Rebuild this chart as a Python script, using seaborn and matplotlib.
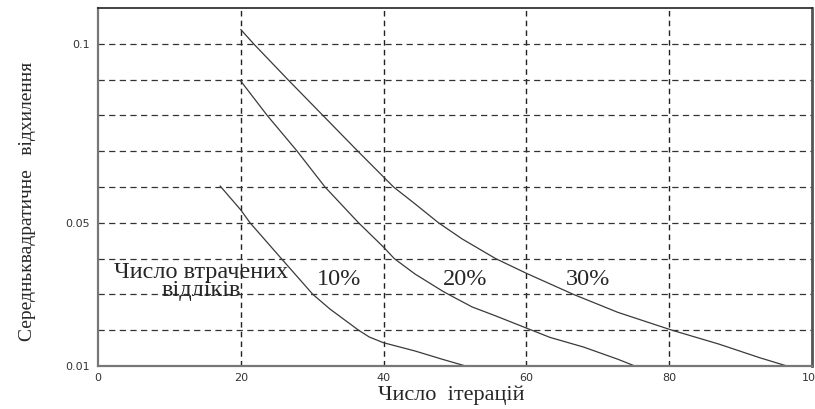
import matplotlib
matplotlib.use("Agg")
import matplotlib.pyplot as plt
from matplotlib.ticker import MultipleLocator, FixedLocator
import seaborn as sns
import pandas as pd

# Mean-square deviation versus iteration count for different shares of lost samples
iters_10 = [17.1, 20, 21.3, 25.6, 30.1, 32.5, 36.5, 38, 40, 44.4, 48.2, 51.5]
err_10 = [0.0603, 0.0536, 0.05, 0.0402, 0.03, 0.0259, 0.02, 0.0181, 0.0165, 0.0142, 0.0119, 0.01]

iters_20 = [20, 23.7, 27.9, 31.8, 36.5, 40, 41.5, 44.4, 48.2, 49.1, 52.4, 55.7, 60, 63.3, 68, 72.8, 75.2]
err_20 = [0.0896, 0.08, 0.07, 0.06, 0.05, 0.0432, 0.04, 0.0357, 0.031, 0.03, 0.0265, 0.024, 0.0206,
          0.018, 0.0153, 0.0119, 0.01]

iters_30 = [20, 21.8, 26.6, 31.5, 36.4, 40, 41.4, 44.4, 47.7, 51, 55.7, 60, 66.6, 72.8, 80.4, 87, 92.7, 96.5]
err_30 = [0.104, 0.1, 0.09, 0.08, 0.07, 0.0628, 0.06, 0.0553, 0.05, 0.0455, 0.04, 0.0359, 0.03,
          0.025, 0.02, 0.0161, 0.0123, 0.01]

series_labels = ["10%", "20%", "30%"]
x_ticks = [0, 20, 40, 60, 80, 100]
y_ticks = [0.01, 0.05, 0.1]
y_tick_labels = ["0.01", "0.05", "0.1"]

frames = []
for lab, xs, ys in zip(series_labels, [iters_10, iters_20, iters_30], [err_10, err_20, err_30]):
    frames.append(pd.DataFrame({"iter": xs, "err": ys, "lost": lab}))
df = pd.concat(frames, ignore_index=True)

sns.set_style("white")
plt.rcParams["font.family"] = ["Liberation Serif", "DejaVu Serif"]

fig = plt.figure(figsize=(8.15, 4.09), dpi=100)
ax = fig.add_axes([0.1202, 0.1051, 0.8761, 0.8753])

sns.lineplot(data=df, x="iter", y="err", units="lost", estimator=None, sort=False,
             color="#3a3a3a", linewidth=0.9, ax=ax, legend=False)

ax.set_xlim(0, 100)
ax.set_ylim(0.01, 0.11)

ax.xaxis.set_major_locator(FixedLocator(x_ticks))
ax.set_xticklabels([str(v) for v in x_ticks])
ax.yaxis.set_major_locator(FixedLocator(y_ticks))
ax.set_yticklabels(y_tick_labels)
ax.yaxis.set_minor_locator(MultipleLocator(0.01))

ax.tick_params(axis="both", which="both", length=0, labelsize=8, labelcolor="#333333")
ax.tick_params(axis="x", pad=5)
ax.tick_params(axis="y", pad=6)
for lbl in ax.get_xticklabels() + ax.get_yticklabels():
    lbl.set_fontfamily("DejaVu Sans")

# dashed grid: vertical at major x ticks, horizontal every 0.01
for xv in [20, 40, 60, 80]:
    ax.axvline(xv, color="#222222", linestyle=(0, (4, 3)), linewidth=1.0, zorder=0)
yv = 0.02
while yv < 0.1095:
    ax.axhline(yv, color="#333333", linestyle=(0, (5, 3.5)), linewidth=0.9, zorder=0)
    yv += 0.01

ax.spines["left"].set_color("#777777")
ax.spines["left"].set_linewidth(1.6)
ax.spines["bottom"].set_color("#777777")
ax.spines["bottom"].set_linewidth(1.6)
ax.spines["top"].set_color("#222222")
ax.spines["top"].set_linewidth(1.2)
ax.spines["right"].set_color("#555555")
ax.spines["right"].set_linewidth(2.0)

ax.set_xlabel("Число  ітерацій", fontsize=16)
ax.xaxis.set_label_coords(0.495, -0.054)
ax.set_ylabel("Середньквадратичне   відхилення", fontsize=14)
ax.yaxis.set_label_coords(-0.087, 0.461)

ax.text(14.5, 0.0336, "Число втрачених\nвідліків", fontsize=17.5, ha="center", va="center",
        multialignment="center", linespacing=0.78)
for lab, xt in zip(series_labels, [33.8, 51.4, 68.7]):
    ax.text(xt, 0.0343, lab, fontsize=17.5, ha="center", va="center")

fig.savefig("out.png", dpi=100)
